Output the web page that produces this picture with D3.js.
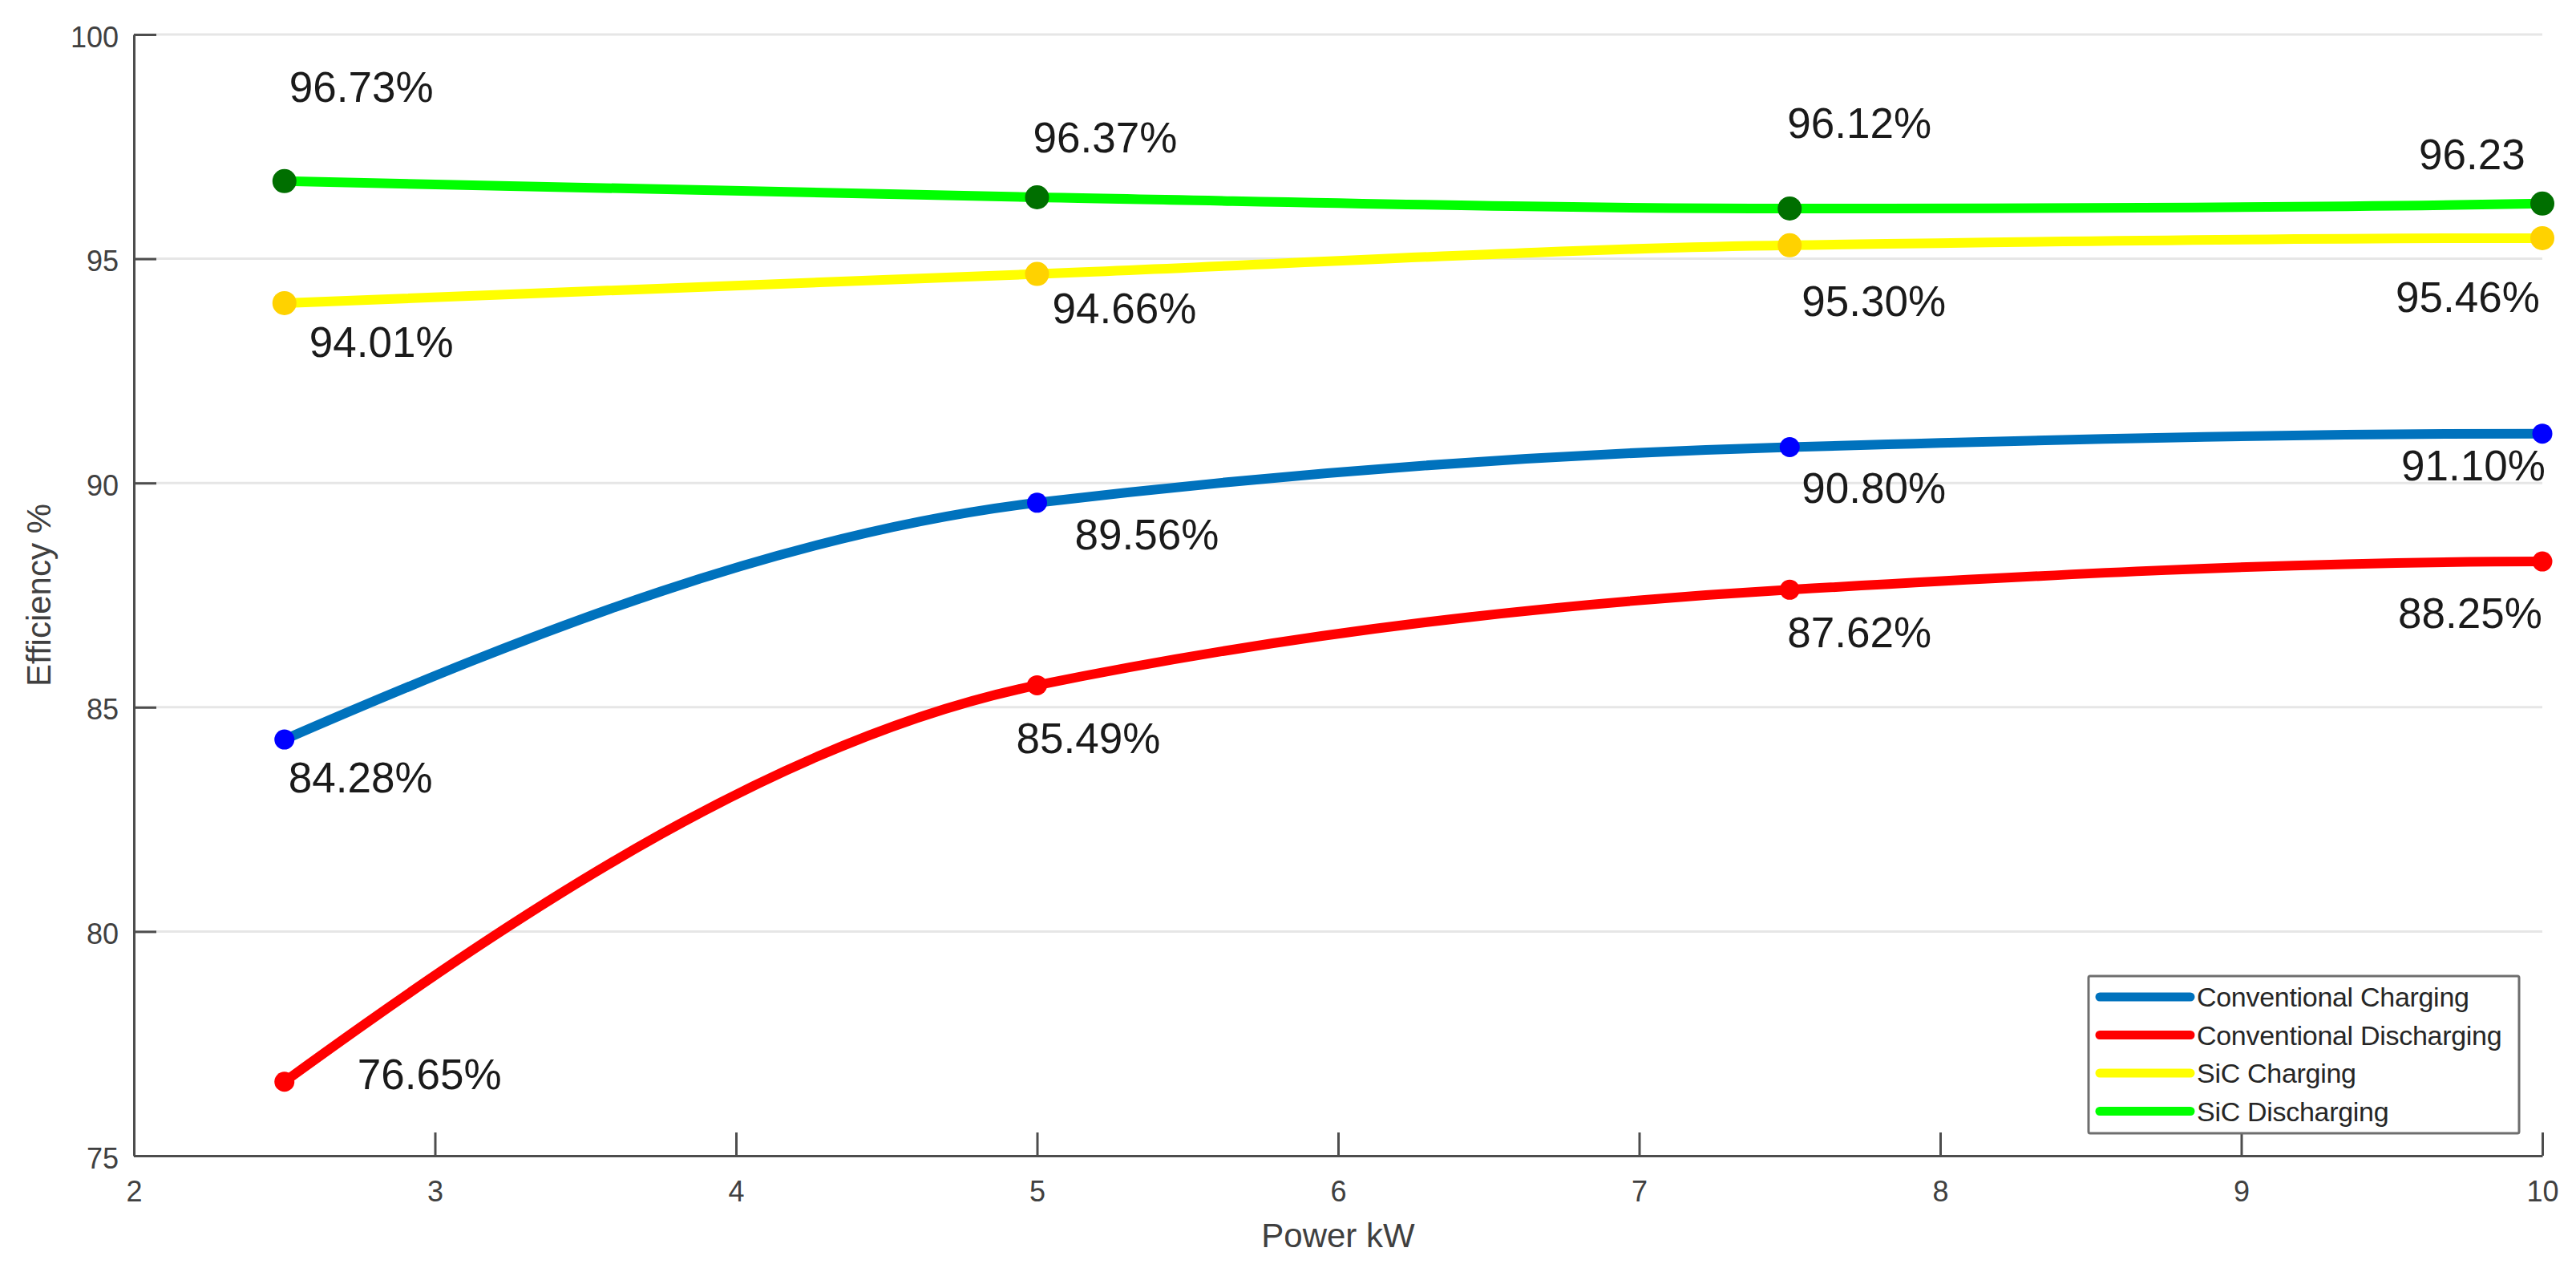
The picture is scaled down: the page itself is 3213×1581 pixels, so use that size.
<!DOCTYPE html>
<html>
<head>
<meta charset="utf-8">
<script src="https://cdn.jsdelivr.net/npm/d3@7"></script>
<style>
  html, body { margin: 0; padding: 0; background: #ffffff; }
  svg { display: block; }
  text { font-family: "Liberation Sans", Arial, Helvetica, sans-serif; }
</style>
</head>
<body>
<script>
// ---------------- data ----------------
const powerKW = [2.5, 5, 7.5, 10];
const seriesNames = ["Conventional Charging", "Conventional Discharging", "SiC Charging", "SiC Discharging"];
const convCharging    = [84.28, 89.56, 90.80, 91.10];
const convDischarging = [76.65, 85.49, 87.62, 88.25];
const sicCharging     = [94.01, 94.66, 95.30, 95.46];
const sicDischarging  = [96.73, 96.37, 96.12, 96.23];
const convChargingLabels    = ["84.28%", "89.56%", "90.80%", "91.10%"];
const convDischargingLabels = ["76.65%", "85.49%", "87.62%", "88.25%"];
const sicChargingLabels     = ["94.01%", "94.66%", "95.30%", "95.46%"];
const sicDischargingLabels  = ["96.73%", "96.37%", "96.12%", "96.23"];
const xTicks = [2, 3, 4, 5, 6, 7, 8, 9, 10];
const yTicks = [75, 80, 85, 90, 95, 100];
const xLabel = "Power kW";
const yLabel = "Efficiency %";

// ---------------- styles ----------------
const lineColors   = ["#0072BD", "#FF0000", "#FFFF00", "#00FF00"];
const markerColors = ["#0000FF", "#FF0000", "#FFD200", "#006F00"];
const markerR      = [12.5, 12.5, 15, 15];
// label offsets (dx, dy of baseline-left) relative to each data point, in px
const labelOffsets = [
  [[5, 66], [47, 58], [15, 70], [-176, 58]],
  [[91, 9], [-26, 85], [-3, 72], [-180, 83]],
  [[31, 67], [19, 61], [15, 88], [-183, 92]],
  [[6, -99], [-5, -56], [-3, -88], [-154, -43]]
];

const W = 3213, H = 1581;
const M = { left: 167, right: 42, top: 43, bottom: 140 };

const seriesValues = [convCharging, convDischarging, sicCharging, sicDischarging];
const seriesLabels = [convChargingLabels, convDischargingLabels, sicChargingLabels, sicDischargingLabels];

const svg = d3.select("body").append("svg").attr("width", W).attr("height", H);

const x = d3.scaleLinear().domain([2, 10]).range([M.left, W - M.right]);
const y = d3.scaleLinear().domain([75, 100]).range([H - M.bottom, M.top]);

// Piecewise cubic Hermite (MATLAB pchip-style) curve for d3.line
function pchipEnd(h1, h2, del1, del2) {
  let d = ((2 * h1 + h2) * del1 - h1 * del2) / (h1 + h2);
  if (Math.sign(d) !== Math.sign(del1)) d = 0;
  else if (Math.sign(del1) !== Math.sign(del2) && Math.abs(d) > Math.abs(3 * del1)) d = 3 * del1;
  return d;
}
class PchipCurve {
  constructor(context) { this._context = context; }
  areaStart() {} areaEnd() {}
  lineStart() { this._x = []; this._y = []; }
  point(px, py) { this._x.push(+px); this._y.push(+py); }
  lineEnd() {
    const xs = this._x, ys = this._y, n = xs.length, ctx = this._context;
    if (!n) return;
    ctx.moveTo(xs[0], ys[0]);
    if (n < 2) return;
    const h = [], del = [];
    for (let i = 0; i < n - 1; i++) { h.push(xs[i + 1] - xs[i]); del.push((ys[i + 1] - ys[i]) / h[i]); }
    const d = new Array(n).fill(0);
    if (n === 2) { d[0] = d[1] = del[0]; }
    else {
      for (let k = 1; k < n - 1; k++) {
        if (del[k - 1] * del[k] > 0) {
          const w1 = 2 * h[k] + h[k - 1], w2 = h[k] + 2 * h[k - 1];
          d[k] = (w1 + w2) / (w1 / del[k - 1] + w2 / del[k]);
        } else d[k] = 0;
      }
      d[0] = pchipEnd(h[0], h[1], del[0], del[1]);
      d[n - 1] = pchipEnd(h[n - 2], h[n - 3], del[n - 2], del[n - 3]);
    }
    for (let i = 0; i < n - 1; i++) {
      const hh = h[i];
      ctx.bezierCurveTo(xs[i] + hh / 3, ys[i] + d[i] * hh / 3,
                        xs[i + 1] - hh / 3, ys[i + 1] - d[i + 1] * hh / 3,
                        xs[i + 1], ys[i + 1]);
    }
  }
}
const curvePchip = ctx => new PchipCurve(ctx);

// gridlines
svg.append("g")
  .selectAll("line").data(yTicks.filter(t => t > 75)).join("line")
  .attr("x1", x(2)).attr("x2", x(10))
  .attr("y1", d => y(d)).attr("y2", d => y(d))
  .attr("stroke", "#e6e6e6").attr("stroke-width", 3);

// axes
const axisColor = "#4d4d4d";
const xAxis = svg.append("g")
  .attr("transform", `translate(0,${y(75)})`)
  .call(d3.axisBottom(x).tickValues(xTicks).tickFormat(d3.format("d")).tickSizeInner(-29).tickSizeOuter(0).tickPadding(31));
const yAxis = svg.append("g")
  .attr("transform", `translate(${x(2)},0)`)
  .call(d3.axisLeft(y).tickValues(yTicks).tickFormat(d3.format("d")).tickSizeInner(-28).tickSizeOuter(0).tickPadding(19));
[xAxis, yAxis].forEach(a => {
  a.select(".domain").attr("stroke", axisColor).attr("stroke-width", 3);
  a.selectAll(".tick line").attr("stroke", axisColor).attr("stroke-width", 3);
  a.selectAll(".tick text").attr("fill", "#404040").attr("font-size", 36)
    .attr("font-family", "'Liberation Sans', Arial, sans-serif");
});
yAxis.selectAll(".tick text").attr("dy", "0.42em");

// axis labels
svg.append("text")
  .attr("x", (x(2) + x(10)) / 2).attr("y", 1555)
  .attr("text-anchor", "middle").attr("font-size", 42).attr("fill", "#404040")
  .text(xLabel);
svg.append("text")
  .attr("transform", `translate(63,${(y(75) + y(100)) / 2}) rotate(-90)`)
  .attr("text-anchor", "middle").attr("font-size", 42).attr("fill", "#404040")
  .text(yLabel);

// lines
const line = d3.line().x(d => x(d[0])).y(d => y(d[1])).curve(curvePchip);
seriesValues.forEach((vals, s) => {
  svg.append("path")
    .datum(powerKW.map((p, i) => [p, vals[i]]))
    .attr("d", line)
    .attr("fill", "none")
    .attr("stroke", lineColors[s])
    .attr("stroke-width", 12)
    .attr("stroke-linecap", "round");
});

// markers
seriesValues.forEach((vals, s) => {
  svg.append("g").selectAll("circle")
    .data(powerKW.map((p, i) => [p, vals[i]]))
    .join("circle")
    .attr("cx", d => x(d[0])).attr("cy", d => y(d[1]))
    .attr("r", markerR[s])
    .attr("fill", markerColors[s]);
});

// data labels
seriesValues.forEach((vals, s) => {
  svg.append("g").selectAll("text")
    .data(powerKW.map((p, i) => ({ p, v: vals[i], t: seriesLabels[s][i], o: labelOffsets[s][i] })))
    .join("text")
    .attr("x", d => x(d.p) + d.o[0])
    .attr("y", d => y(d.v) + d.o[1])
    .attr("font-size", 53)
    .attr("fill", "#1a1a1a")
    .text(d => d.t);
});

// legend
const lg = svg.append("g");
const lgX = 2605, lgY = 1217, lgW = 537, lgH = 196;
lg.append("rect")
  .attr("x", lgX).attr("y", lgY).attr("width", lgW).attr("height", lgH)
  .attr("fill", "#ffffff").attr("stroke", "#6e6e6e").attr("stroke-width", 3).attr("rx", 2);
seriesNames.forEach((name, i) => {
  const cy = lgY + 26 + i * 47.5;
  lg.append("line")
    .attr("x1", lgX + 14).attr("x2", lgX + 127)
    .attr("y1", cy).attr("y2", cy)
    .attr("stroke", lineColors[i]).attr("stroke-width", 11).attr("stroke-linecap", "round");
  lg.append("text")
    .attr("x", lgX + 135).attr("y", cy).attr("dy", "0.36em")
    .attr("font-size", 34).attr("fill", "#262626")
    .attr("letter-spacing", -0.3)
    .text(name);
});
</script>
</body>
</html>
